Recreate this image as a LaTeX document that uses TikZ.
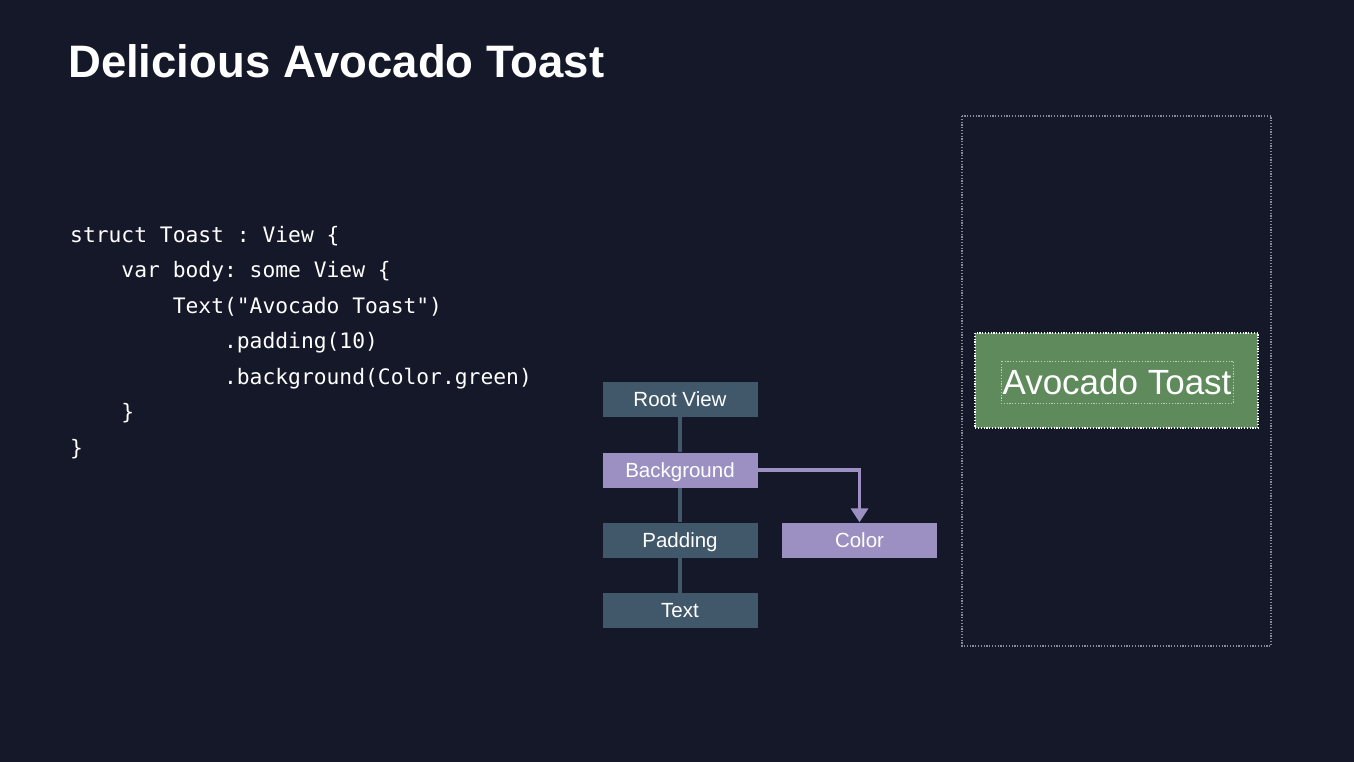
\documentclass[tikz,border=0pt]{standalone}
\usepackage{fontspec}
\setmainfont{Liberation Sans}
\setmonofont{DejaVu Sans Mono}
\usetikzlibrary{arrows.meta}

\definecolor{bgnavy}{HTML}{141829}
\definecolor{slatebox}{HTML}{41586A}
\definecolor{lavbox}{HTML}{9C90C2}
\definecolor{toastgreen}{HTML}{5E8A5C}
\definecolor{framegray}{HTML}{858B99}

\tikzset{
  treebox/.style={fill=slatebox, minimum width=155pt, minimum height=35pt, inner sep=0pt,
    text=white, text height=14.5pt, text depth=0pt, font=\fontsize{20.5}{20.5}\selectfont},
  modbox/.style={treebox, fill=lavbox},
  treeline/.style={draw=slatebox, line width=4pt},
  modline/.style={draw=lavbox, line width=3.5pt, -{Triangle[length=14pt,width=17pt]}},
  codeline/.style={anchor=base west, inner sep=0pt, text=white, font=\fontsize{21.3}{21}\ttfamily},
  dotframe/.style={draw=framegray, line width=1.2pt, dash pattern=on 1.2pt off 1.6pt},
}

\begin{document}
\begin{tikzpicture}[x=1pt,y=-1pt]
\useasboundingbox (0,0) rectangle (1354,762);
\fill[bgnavy] (0,0) rectangle (1354,762);

% title
\node[anchor=base west, inner sep=0pt, text=white, font=\fontsize{45.5}{45.5}\bfseries\selectfont]
  (title) at (68,78) {Delicious Avocado Toast};

% code
\node[codeline] (c1) at (70,242) {struct Toast : View \{};
\node[codeline] (c2) at (70,277.5) {\ \ \ \ var body: some View \{};
\node[codeline] (c3) at (70,313) {\ \ \ \ \ \ \ \ Text("Avocado Toast")};
\node[codeline] (c4) at (70,348.5) {\ \ \ \ \ \ \ \ \ \ \ \ .padding(10)};
\node[codeline] (c5) at (70,384) {\ \ \ \ \ \ \ \ \ \ \ \ .background(Color.green)};
\node[codeline] (c6) at (70,419.5) {\ \ \ \ \}};
\node[codeline] (c7) at (70,455) {\}};

% view tree
\node[treebox] (root) at (680,399) {Root View};
\node[modbox] (bg) at (680,470) {Background};
\node[treebox] (pad) at (680,540) {Padding};
\node[treebox] (txt) at (680,610.5) {Text};
\node[modbox] (color) at (859.5,540) {Color};

\draw[treeline] (root) -- (bg);
\draw[treeline] (bg) -- (pad);
\draw[treeline] (pad) -- (txt);
\draw[modline] (bg.east) -| (color.north);

% preview
\draw[dotframe] (962,116) rectangle (1271,646);
\draw[dotframe, draw=white, fill=toastgreen] (975,333) rectangle (1258,428);
\draw[dotframe, draw=white!60!toastgreen, line width=0.8pt] (1001,361) rectangle (1233,403);
\node[text=white, font=\fontsize{35}{35}\selectfont] (toast) at (1117,382) {Avocado Toast};
\end{tikzpicture}
\end{document}
